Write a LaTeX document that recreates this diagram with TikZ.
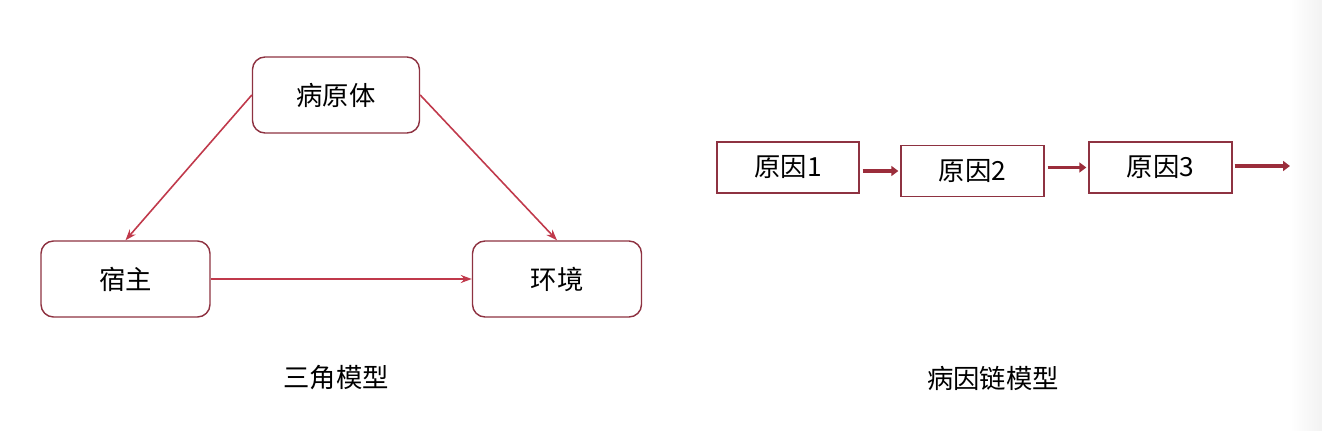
\documentclass[tikz,border=0pt]{standalone}
\usepackage{fontspec}
\setmainfont{Noto Sans CJK SC}
\usetikzlibrary{arrows.meta}

\definecolor{boxred}{HTML}{8E3241}
\definecolor{linered}{HTML}{C0394B}
\definecolor{chainred}{HTML}{9B2D3B}

\begin{document}
\begin{tikzpicture}[font = \fontsize{15}{18}\selectfont,
  model/.style = {draw = boxred, line width = 0.8pt, rounded corners = 0.25cm,
    minimum width = 3.34cm, minimum height = 1.52cm},
  cause/.style = {draw = boxred, line width = 0.8pt, minimum width = 2.86cm,
    minimum height = 1.02cm},
  link/.style = {draw = linered, line width = 0.9pt,
    -{Stealth[length = 0.22cm, width = 0.16cm]}},
  chain/.style = {draw = chainred, line width = 2pt,
    -{Triangle[length = 0.14cm, width = 0.2cm]}}]
  \useasboundingbox (0, 0) rectangle (26.44cm, 8.6cm);
  \shade[left color = white, right color = black!5] (25.8cm, 0) rectangle (26.44cm, 8.6cm);

  % triangle model
  \node[model] (pathogen) at (6.72cm, 6.70cm) {病原体};
  \node[model, minimum width = 3.38cm] (host) at (2.51cm, 3.02cm) {宿主};
  \node[model, minimum width = 3.38cm] (env) at (11.14cm, 3.02cm) {环境};

  \draw[link] (pathogen.west) -- (host.north);
  \draw[link] (pathogen.east) -- (env.north);
  \draw[link] (host.east) -- (env.west);

  \node (tri) at (6.72cm, 1.04cm) {三角模型};

  % causal chain model
  \node[cause, minimum width = 2.84cm] (cause1) at (15.76cm, 5.25cm) {原因1};
  \node[cause] (cause2) at (19.45cm, 5.18cm) {原因2};
  \node[cause] (cause3) at (23.21cm, 5.25cm) {原因3};
  \coordinate (out) at (25.80cm, 5.28cm);

  \draw[chain] (cause1.east |- cause2.west) ++(0.06cm, 0) -- ([xshift = -0.04cm] cause2.west);
  \draw[chain] (cause2.east |- cause3.west) ++(0.06cm, 0) -- ([xshift = -0.04cm] cause3.west);
  \draw[chain] (cause3.east |- out) ++(0.04cm, 0) -- (out);

  \node (chainlabel) at (19.86cm, 1.04cm) {病因链模型};
\end{tikzpicture}
\end{document}
